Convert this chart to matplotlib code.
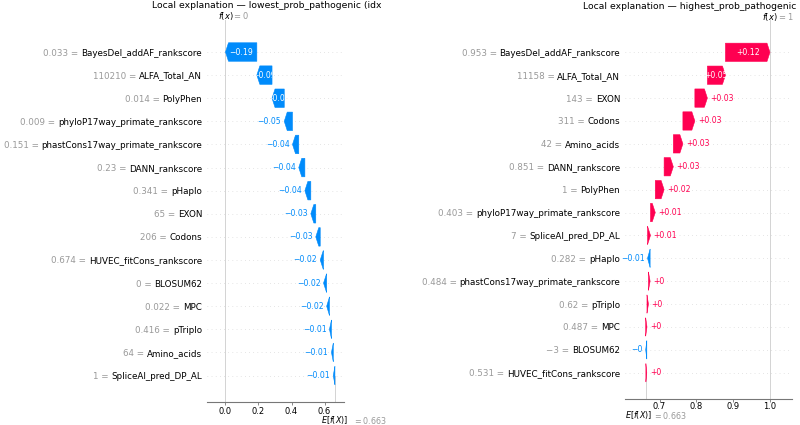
"""Waterfall explanations for the lowest and highest scoring variants."""
import re

import matplotlib

matplotlib.use("Agg")
import matplotlib.pyplot as plt
import numpy as np
from matplotlib.ticker import MultipleLocator
from matplotlib.transforms import Bbox, TransformedBbox, blended_transform_factory

RED = "#ff0051"
BLUE = "#008bfb"
GREY = "#999999"

BASE_VALUE = 0.663

low_title = "Local explanation \u2014 lowest_prob_pathogenic (idx"
low_features = [
    "BayesDel_addAF_rankscore", "ALFA_Total_AN", "PolyPhen",
    "phyloP17way_primate_rankscore", "phastCons17way_primate_rankscore",
    "DANN_rankscore", "pHaplo", "EXON", "Codons", "HUVEC_fitCons_rankscore",
    "BLOSUM62", "MPC", "pTriplo", "Amino_acids", "SpliceAI_pred_DP_AL",
]
low_feature_values = [0.033, 110210, 0.014, 0.009, 0.151, 0.23, 0.341, 65, 206,
                      0.674, 0, 0.022, 0.416, 64, 1]
low_shap = [-0.19, -0.092, -0.074, -0.05, -0.038, -0.037, -0.036, -0.03, -0.027,
            -0.02, -0.019, -0.017, -0.012, -0.011, -0.010]

high_title = "Local explanation \u2014 highest_prob_pathogenic (idx"
high_features = [
    "BayesDel_addAF_rankscore", "ALFA_Total_AN", "EXON", "Codons", "Amino_acids",
    "DANN_rankscore", "PolyPhen", "phyloP17way_primate_rankscore",
    "SpliceAI_pred_DP_AL", "pHaplo", "phastCons17way_primate_rankscore",
    "pTriplo", "MPC", "BLOSUM62", "HUVEC_fitCons_rankscore",
]
high_feature_values = [0.953, 11158, 143, 311, 42, 0.851, 1, 0.403, 7, 0.282,
                       0.484, 0.62, 0.487, -3, 0.531]
high_shap = [0.121, 0.049, 0.034, 0.0325, 0.026, 0.025, 0.024, 0.013, 0.008,
             -0.007, 0.0045, 0.004, 0.0035, -0.003, 0.0025]

LABEL_SIZE = 6.3


def format_value(v, fmt):
    s = fmt % v
    s = re.sub(r"\.?0+$", "", s)
    if s[0] == "-":
        s = "\u2212" + s[1:]
    return s


def draw_waterfall(fig, rect, names, feature_values, shap_values, title, layout):
    ax = fig.add_axes(rect)
    shap_values = np.asarray(shap_values, dtype=float)
    n = len(names)
    rows = np.arange(n)[::-1]
    ends = BASE_VALUE + np.cumsum(shap_values[::-1])[::-1]
    starts = ends - shap_values
    fx = round(ends[0], 6) + 0.0

    xlim = layout["xlim"]
    ax.set_xlim(*xlim)
    ax.set_ylim(-1.14, n - 1 + 1.14)
    per_px = (xlim[1] - xlim[0]) / ax.bbox.width
    head = 3 * per_px

    for r in rows:
        ax.axhline(r, color="#cccccc", lw=0.5, dashes=(1, 5), zorder=-1)

    for i in range(n):
        dist = shap_values[i]
        colour = RED if dist >= 0 else BLUE
        sign = 1 if dist >= 0 else -1
        ax.arrow(starts[i], rows[i], sign * max(abs(dist) - head, 1e-6), 0,
                 head_length=min(abs(dist), head), width=0.8, head_width=0.8,
                 color=colour, lw=0.4)
        label = format_value(dist, "%+0.02f")
        if i < layout["n_inside"]:
            txt = ax.text(starts[i] + dist / 2, rows[i], label, ha="center",
                          va="center", color="white", fontsize=5.6)
            lo, hi = sorted((starts[i], ends[i]))
            box = Bbox([[lo, rows[i] - 0.4], [hi, rows[i] + 0.4]])
            txt.set_clip_box(TransformedBbox(box, ax.transData))
            txt.set_clip_on(True)
        elif dist >= 0:
            ax.text(ends[i] + 3 * per_px, rows[i], label, ha="left", va="center",
                    color=RED, fontsize=5.6)
        else:
            ax.text(ends[i] - 3 * per_px, rows[i], label, ha="right", va="center",
                    color=BLUE, fontsize=5.6)

    ax.set_yticks(rows)
    ax.set_yticklabels(names, fontsize=LABEL_SIZE)
    ax.tick_params(axis="y", length=0, pad=3.5)

    ax.xaxis.set_major_locator(MultipleLocator(layout["tick_step"]))
    ax.tick_params(axis="x", labelsize=6, length=2, width=0.6, pad=layout["tick_pad"],
                   color="#777777")
    for side in ("left", "top", "right"):
        ax.spines[side].set_visible(False)
    ax.spines["bottom"].set_color("#777777")
    ax.spines["bottom"].set_linewidth(0.8)

    ax.axvline(fx, 0, 1.016, color="#cccccc", lw=0.6, zorder=-1, clip_on=False)
    ax.plot([BASE_VALUE, BASE_VALUE], [ax.get_ylim()[0], rows[-1]], color="#cccccc",
            lw=0.6, zorder=-1)

    blend = ("data", "axes fraction")
    ax.annotate("$f(x)$", xy=(fx, 1), xycoords=blend, xytext=(0, 4.5),
                textcoords="offset points", ha="center", va="baseline", fontsize=6)
    ax.annotate("$= " + format_value(fx, "%0.03f") + "$", xy=(fx, 1), xycoords=blend,
                xytext=(5, 4.5), textcoords="offset points", ha="left", va="baseline",
                fontsize=6, color=GREY)
    ex, gx, ey = layout["e_offset"]
    ax.annotate("$E[f(X)]$", xy=(BASE_VALUE, 0), xycoords=blend, xytext=(ex, ey),
                textcoords="offset points", ha="right", va="center", fontsize=5.8)
    ax.annotate("$= " + format_value(BASE_VALUE, "%0.03f") + "$", xy=(BASE_VALUE, 0),
                xycoords=blend, xytext=(gx, ey), textcoords="offset points", ha="left",
                va="center", fontsize=5.8, color=GREY)

    t = ax.annotate(title, xy=(layout["title_x"], 1), xycoords="axes fraction",
                    xytext=(0, 12.5), textcoords="offset points", ha="left",
                    va="baseline", fontsize=6.7)
    if layout.get("clip_right"):
        t.set_clip_box(TransformedBbox(Bbox([[0, 0], [layout["clip_right"], 1]]),
                                       fig.transFigure))
        t.set_clip_on(True)

    # grey "value =" prefix placed just left of each black feature name
    fig.canvas.draw()
    renderer = fig.canvas.get_renderer()
    left_edge = {lbl.get_text(): lbl.get_window_extent(renderer).x0
                 for lbl in ax.get_yticklabels()}
    space_px = 0.318 * LABEL_SIZE * fig.dpi / 72
    to_axes = ax.transAxes.inverted()
    trans = blended_transform_factory(ax.transAxes, ax.transData)
    for r, v, name in zip(rows, feature_values, names):
        xfrac = to_axes.transform((left_edge[name] - space_px, 0))[0]
        ax.text(xfrac, r, format_value(v, "%0.03f") + " =", transform=trans,
                ha="right", va="center_baseline", color=GREY, fontsize=LABEL_SIZE)
    return ax


fig = plt.figure(figsize=(8, 4.25), dpi=100)

draw_waterfall(
    fig, [0.25875, 0.0544, 0.17125, 0.8852],
    low_features, low_feature_values, low_shap, low_title,
    {"xlim": (-0.112, 0.718), "tick_step": 0.2, "n_inside": 3, "tick_pad": 1.5,
     "e_offset": (9.4, 13, -13.2), "title_x": -0.40, "clip_right": 0.476},
)
draw_waterfall(
    fig, [0.78125, 0.0616, 0.2084, 0.8767],
    high_features, high_feature_values, high_shap, high_title,
    {"xlim": (0.6063, 1.059), "tick_step": 0.1, "n_inside": 2, "tick_pad": 0.5,
     "e_offset": (4.4, 5, -12.0), "title_x": -0.252},
)

fig.savefig("out.png", dpi=100)
